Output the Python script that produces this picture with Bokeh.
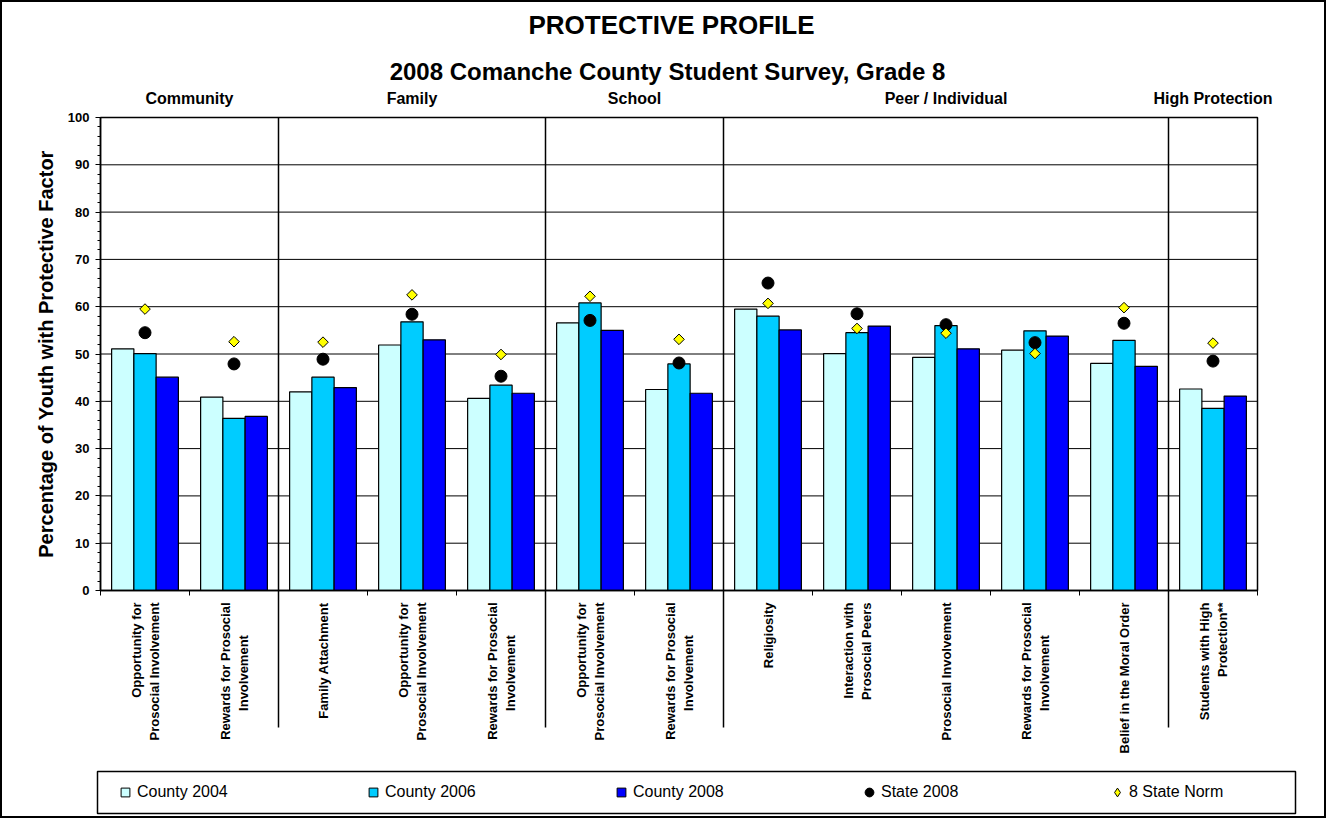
import math
from bokeh.plotting import figure
from bokeh.models import (Range1d, FixedTicker, Label, PolyAnnotation, LinearAxis,
                          Legend, LegendItem, ColumnDataSource)
from bokeh.transform import dodge
from bokeh.embed import file_html
from bokeh.resources import INLINE

# ---------------- data ----------------
categories = [
    ["Opportunity for", "Prosocial Involvement"],
    ["Rewards for Prosocial", "Involvement"],
    ["Family Attachment"],
    ["Opportunity for", "Prosocial Involvement"],
    ["Rewards for Prosocial", "Involvement"],
    ["Opportunity for", "Prosocial Involvement"],
    ["Rewards for Prosocial", "Involvement"],
    ["Religiosity"],
    ["Interaction with", "Prosocial Peers"],
    ["Prosocial Involvement"],
    ["Rewards for Prosocial", "Involvement"],
    ["Belief in the Moral Order"],
    ["Students with High", "Protection**"],
]
groups = ["Community", "Family", "School", "Peer / Individual", "High Protection"]
group_sizes = [2, 3, 2, 5, 1]

county_2004 = [51.1, 40.9, 42.0, 51.9, 40.6, 56.6, 42.5, 59.5, 50.1, 49.3, 50.8, 48.0, 42.6]
county_2006 = [50.1, 36.4, 45.1, 56.8, 43.4, 60.8, 47.9, 58.0, 54.5, 56.0, 54.9, 52.9, 38.5]
county_2008 = [45.1, 36.8, 42.9, 53.0, 41.7, 55.0, 41.7, 55.1, 55.9, 51.1, 53.8, 47.4, 41.1]
state_2008 = [54.5, 47.9, 48.9, 58.4, 45.3, 57.1, 48.1, 65.0, 58.5, 56.2, 52.4, 56.5, 48.5]
state_norm = [59.5, 52.6, 52.5, 62.5, 49.9, 62.2, 53.1, 60.7, 55.4, 54.4, 50.1, 59.8, 52.3]

series_names = ["County 2004", "County 2006", "County 2008", "State 2008", "8 State Norm"]
y_ticks = list(range(0, 101, 10))
y_minor = list(range(0, 101, 2))

# ---------------- layout helpers (page pixels -> data) ----------------
FONT = "Liberation Sans"
INK = "black"
W, H = 1326, 818
ORG = 2                                       # canvas origin on the page (css border)
FR_L, FR_R, FR_T, FR_B = 100, 1257, 117, 590  # plot area on the page
n = len(categories)
PX_X = (FR_R - FR_L) / n
PX_Y = (FR_B - FR_T) / 100.0

def dx(px):
    return (px - FR_L) / PX_X

def dy(py):
    return (FR_B - py) / PX_Y

src = ColumnDataSource(dict(
    x=[i + 0.5 for i in range(n)],
    c2004=county_2004, c2006=county_2006, c2008=county_2008,
    state=state_2008, norm=state_norm,
))

p = figure(width=W, height=H,
           x_range=Range1d(dx(ORG), dx(ORG + W)), y_range=Range1d(dy(ORG + H), dy(ORG)),
           output_backend="svg", toolbar_location=None, title_location=None,
           x_axis_location=None, y_axis_location=None,
           min_border=0, min_border_left=0, min_border_right=0,
           min_border_top=0, min_border_bottom=0,
           styles={"border": "2px solid black"})
p.background_fill_color = "white"
p.border_fill_color = "white"
p.outline_line_color = None
p.grid.visible = False

# gridlines
p.segment(x0=0, x1=n, y0=y_ticks, y1=y_ticks, line_color="black", line_width=1)

# bars
bw = 0.25
colors = ["#CCFFFF", "#00CCFF", "#0000FF"]
for off, col, c in zip([-bw, 0, bw], ["c2004", "c2006", "c2008"], colors):
    p.vbar(x=dodge("x", off, range=p.x_range), top=col, width=bw, bottom=0, source=src,
           fill_color=c, line_color="black", line_width=1.2)

# group separators (extend below the plot area)
bounds = []
b = 0
for s in group_sizes[:-1]:
    b += s
    bounds.append(b)
p.segment(x0=bounds, x1=bounds, y0=[100] * len(bounds), y1=[dy(727)] * len(bounds),
          line_color="black", line_width=1.5)

# plot area border
p.quad(left=0, right=n, bottom=0, top=100, fill_color=None, line_color="black",
       line_width=1.5)

r_state = p.scatter(x="x", y="state", source=src, marker="circle", size=12,
                    fill_color="black", line_color="black")
p.scatter(x="x", y="norm", source=src, marker="square", angle=math.pi / 4, size=7.5,
          fill_color="#FFFF00", line_color="black", line_width=1)

# legend proxies
nan = float("nan")
prox = []
for c in colors:
    prox.append(p.scatter(x=[nan], y=[nan], marker="square", fill_color=c,
                          line_color="black", line_width=1))
prox_norm = p.scatter(x=[nan], y=[nan], marker="diamond", fill_color="#FFFF00",
                      line_color="black", line_width=1, size=10)

# axes (fixed at the data origin)
yax = LinearAxis(fixed_location=0, bounds=(0, 100),
                 ticker=FixedTicker(ticks=y_ticks, minor_ticks=y_minor))
yax.major_tick_out = 5
yax.major_tick_in = 0
yax.minor_tick_out = 3
yax.minor_tick_in = 0
yax.major_label_standoff = 6
yax.major_label_text_font = FONT
yax.major_label_text_font_style = "bold"
yax.major_label_text_font_size = "13px"
yax.major_label_text_color = INK
yax.axis_line_color = "black"
yax.axis_line_width = 1.5
yax.major_tick_line_color = "black"
yax.minor_tick_line_color = "black"
p.add_layout(yax, "left")

xax = LinearAxis(fixed_location=0, bounds=(0, n),
                 ticker=FixedTicker(ticks=list(range(0, n + 1))))
xax.major_tick_out = 5
xax.major_tick_in = 0
xax.minor_tick_line_color = None
xax.major_label_overrides = {i: "" for i in range(0, n + 1)}
xax.major_label_text_font_size = "1px"
xax.axis_line_color = "black"
xax.axis_line_width = 1.5
xax.major_tick_line_color = "black"
p.add_layout(xax, "below")

# y axis title
p.add_layout(Label(x=dx(45), y=50, text="Percentage of Youth with Protective Factor",
                   angle=math.pi / 2, text_align="center", text_baseline="middle",
                   text_font=FONT, text_font_style="bold", text_font_size="20px",
                   text_color=INK))

# titles
p.add_layout(Label(x=dx(671), y=dy(24), text="PROTECTIVE PROFILE", text_align="center",
                   text_baseline="middle", text_font=FONT, text_font_style="bold",
                   text_font_size="26px", text_color=INK))
p.add_layout(Label(x=dx(667), y=dy(71), text="2008 Comanche County Student Survey, Grade 8",
                   text_align="center", text_baseline="middle", text_font=FONT,
                   text_font_style="bold", text_font_size="24px", text_color=INK))

# group headers
start = 0
for g, s in zip(groups, group_sizes):
    p.add_layout(Label(x=start + s / 2, y=dy(97.5), text=g, text_align="center",
                       text_baseline="middle", text_font=FONT, text_font_style="bold",
                       text_font_size="16px", text_color=INK))
    start += s

# category labels (rotated)
LINE_OFF = 9 / PX_X
top_y = dy(602)
lab_kw = dict(angle=math.pi / 2, text_baseline="middle", text_font=FONT,
              text_font_style="bold", text_font_size="13px", text_color=INK)
for i, lines in enumerate(categories):
    cx = i + 0.5
    if len(lines) == 1:
        p.add_layout(Label(x=cx, y=top_y, text=lines[0], text_align="right", **lab_kw))
    else:
        p.add_layout(Label(x=cx - LINE_OFF, y=top_y, text=lines[0], text_align="right", **lab_kw))
        if lines[1] == "Involvement":
            p.add_layout(Label(x=cx + LINE_OFF, y=dy(672.5), text=lines[1],
                               text_align="center", **lab_kw))
        else:
            p.add_layout(Label(x=cx + LINE_OFF, y=top_y, text=lines[1],
                               text_align="right", **lab_kw))

# legend frame
p.add_layout(PolyAnnotation(xs=[dx(97), dx(1295), dx(1295), dx(97)],
                            ys=[dy(771), dy(771), dy(813), dy(813)],
                            fill_color="white", fill_alpha=1, line_color="black",
                            line_alpha=1, line_width=1.5))

legend = Legend(items=[
    LegendItem(label=series_names[0], renderers=[prox[0]]),
    LegendItem(label=series_names[1], renderers=[prox[1]]),
    LegendItem(label=series_names[2], renderers=[prox[2]]),
    LegendItem(label=series_names[3], renderers=[r_state]),
    LegendItem(label=series_names[4], renderers=[prox_norm]),
], orientation="horizontal", location=(113 - ORG, (ORG + H) - 803),
    glyph_width=24, glyph_height=22, label_standoff=0, label_width=224, label_height=22,
    spacing=0, padding=0, margin=0, border_line_alpha=0, background_fill_alpha=0,
    label_text_font=FONT, label_text_font_size="16px", label_text_color=INK)
p.add_layout(legend)

open("out.html", "w").write(file_html(p, INLINE))
